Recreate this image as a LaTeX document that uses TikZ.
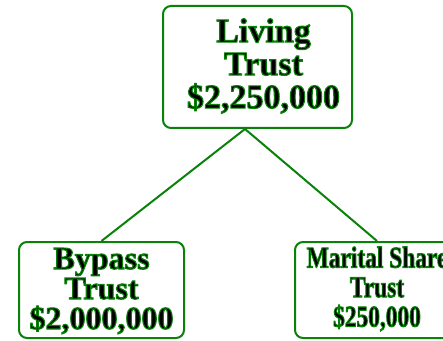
\documentclass[tikz,border=0pt]{standalone}
\usepackage{fontspec}
\setmainfont{Liberation Serif}
\definecolor{tgreen}{RGB}{10,130,10}
\tikzset{
  trustbox/.style={draw=tgreen, line width=2pt, rounded corners=8pt, fill=white, align=center, inner sep=0pt},
  link/.style={draw=tgreen, line width=2pt}
}
\newcommand{\gt}[1]{\special{pdf:literal direct 2 Tr 1.1 w 0.04 0.51 0.04 RG}#1\special{pdf:literal direct 0 Tr}}
\begin{document}
\begin{tikzpicture}[x=1pt,y=1pt]
\useasboundingbox (0,0) rectangle (443,340);
\begin{scope}
\clip (0,0) rectangle (443,340);
\coordinate (apex) at (245,211);
\node[trustbox, minimum width=189pt, minimum height=122pt] (top) at (257.5,273) {};
\node[trustbox, minimum width=165pt, minimum height=96pt] (left) at (101.5,50) {};
\node[trustbox, minimum width=164pt, minimum height=96pt] (right) at (377,50) {};
\draw[link] (apex) -- (left.north);
\draw[link] (apex) -- (right.north);
\node[align=center, font=\fontsize{34}{33}\selectfont\bfseries] (toptext) at ([xshift=6pt,yshift=1pt]top.center) {\gt{Living}\\\gt{Trust}\\\gt{\$2,250,000}};
\node[align=center, font=\fontsize{32}{30}\selectfont\bfseries] (lefttext) at ([yshift=-1pt]left.center) {\gt{Bypass}\\\gt{Trust}\\\gt{\$2,000,000}};
\node[align=center, font=\fontsize{30}{29.5}\selectfont\bfseries] (righttext) at ([yshift=1pt]right.center) {\scalebox{0.78}[1]{\gt{Marital Share}}\\\scalebox{0.78}[1]{\gt{Trust}}\\\scalebox{0.78}[1]{\gt{\$250,000}}};
\end{scope}
\end{tikzpicture}
\end{document}
